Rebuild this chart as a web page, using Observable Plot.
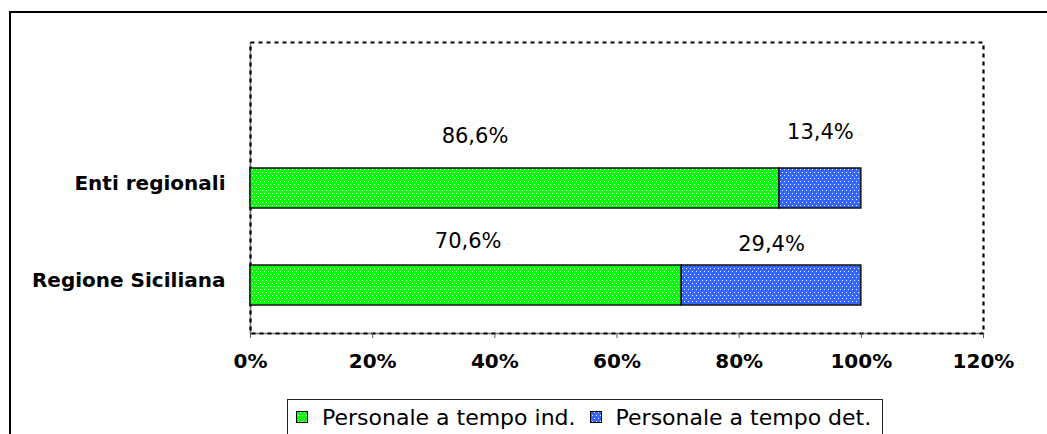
<!DOCTYPE html>
<html>
<head>
<meta charset="utf-8">
<script src="https://cdn.jsdelivr.net/npm/d3@7"></script>
<script src="https://cdn.jsdelivr.net/npm/@observablehq/plot@0.6"></script>
<style>
  html, body { margin: 0; padding: 0; background: #fff; }
  #wrap { position: relative; width: 1047px; height: 434px; overflow: hidden; font-family: "DejaVu Sans", sans-serif; }
  #outer { position: absolute; left: 9px; top: 11px; width: 1200px; height: 600px; border: 2px solid #000; pointer-events: none; }
  #chart { position: absolute; left: 0; top: 0; }
  #legend { position: absolute; left: 287px; top: 399px; width: 596px; height: 36px; border: 1px solid #222; background: #fff;
            display: flex; align-items: center; font-size: 22px; color: #000; box-sizing: border-box; }
  #legend .item { display: flex; align-items: center; }
  #legend svg { display: block; }
</style>
</head>
<body>
<div id="wrap">
  <div id="chart"></div>
  <div id="outer"></div>
  <div id="legend"></div>
</div>
<script>
// ---- data ----
const categories = ["Enti regionali", "Regione Siciliana"];
const tempoIndeterminato = [86.6, 70.6];
const tempoDeterminato = [13.4, 29.4];
const seriesNames = ["Personale a tempo ind.", "Personale a tempo det."];
const seriesColors = ["#00ff00", "#3366ff"];
const xTicks = [0, 20, 40, 60, 80, 100, 120];

// ---- layout (label nudges as in the original) ----
const labelNudges = [
  {dx: -40, dy: -52}, // 86,6%
  {dx: 0, dy: -56},   // 13,4%
  {dx: 2, dy: -44},   // 70,6%
  {dx: 0, dy: -41}    // 29,4%
];

const rows = categories.map((c, i) => ({cat: c, ind: tempoIndeterminato[i], det: tempoDeterminato[i]}));
const fmt = v => v.toFixed(1).replace(".", ",") + "%";

const labels = [];
rows.forEach(r => {
  labels.push({cat: r.cat, x: r.ind / 2, text: fmt(r.ind)});
  labels.push({cat: r.cat, x: r.ind + r.det / 2, text: fmt(r.det)});
});

const patIds = ["patInd", "patDet"];

const plot = Plot.plot({
  width: 1047,
  height: 395,
  marginLeft: 250,
  marginRight: 64,
  marginTop: 42,
  marginBottom: 62,
  style: {fontFamily: "DejaVu Sans", background: "transparent", color: "#000"},
  x: {domain: [0, 120], ticks: xTicks},
  y: {type: "band", domain: ["", ...categories], paddingInner: 0.588, paddingOuter: 0.294},
  marks: [
    Plot.frame({anchor: "bottom", stroke: "#777", strokeWidth: 1.5}),
    Plot.ruleX([0], {stroke: "#777", strokeWidth: 1.5}),
    Plot.frame({stroke: "#000", strokeWidth: 2.2, strokeDasharray: "4,4"}),
    Plot.barX(rows, {y: "cat", x1: 0, x2: "ind", fill: `url(#${patIds[0]})`, stroke: "#111", strokeWidth: 1.5}),
    Plot.barX(rows, {y: "cat", x1: "ind", x2: d => d.ind + d.det, fill: `url(#${patIds[1]})`, stroke: "#111", strokeWidth: 1.5}),
    ...labels.map((l, i) => Plot.text([l], {x: "x", y: "cat", text: "text", fontSize: 21, fill: "#000",
      dx: labelNudges[i].dx, dy: labelNudges[i].dy})),
    Plot.axisX({ticks: xTicks, tickFormat: d => d + "%", tickSize: 5, tickPadding: 15, fontSize: 20, fontWeight: "bold", stroke: "#555", label: null}),
    Plot.axisY({tickSize: 0, tickPadding: 25, fontSize: 20, fontWeight: "bold", dy: -5, label: null})
  ]
});

// patterns (dotted fills)
function addPatterns(svgSel, ids, colors) {
  const defs = svgSel.insert("defs", ":first-child");
  ids.forEach((id, i) => {
    const p = defs.append("pattern").attr("id", id).attr("patternUnits", "userSpaceOnUse")
      .attr("width", 4).attr("height", 6);
    p.append("rect").attr("width", 4).attr("height", 6).attr("fill", colors[i]);
    p.append("rect").attr("x", 0).attr("y", 1).attr("width", 1).attr("height", 1).attr("fill", "#fff").attr("opacity", 0.9);
    p.append("rect").attr("x", 2).attr("y", 4).attr("width", 1).attr("height", 1).attr("fill", "#fff").attr("opacity", 0.9);
  });
}
addPatterns(d3.select(plot), patIds, seriesColors);
document.getElementById("chart").appendChild(plot);

// legend
const legend = d3.select("#legend");
seriesNames.forEach((name, i) => {
  const item = legend.append("div").attr("class", "item")
    .style("margin-left", i === 0 ? "8px" : "14px");
  const sw = item.append("svg").attr("width", 12).attr("height", 12);
  addPatterns(sw, ["lg" + patIds[i]], [seriesColors[i]]);
  sw.append("rect").attr("x", 0.5).attr("y", 0.5).attr("width", 11).attr("height", 11)
    .attr("fill", `url(#lg${patIds[i]})`).attr("stroke", "#000").attr("stroke-width", 1);
  item.append("span").style("margin-left", "14px").text(name);
});
</script>
</body>
</html>
